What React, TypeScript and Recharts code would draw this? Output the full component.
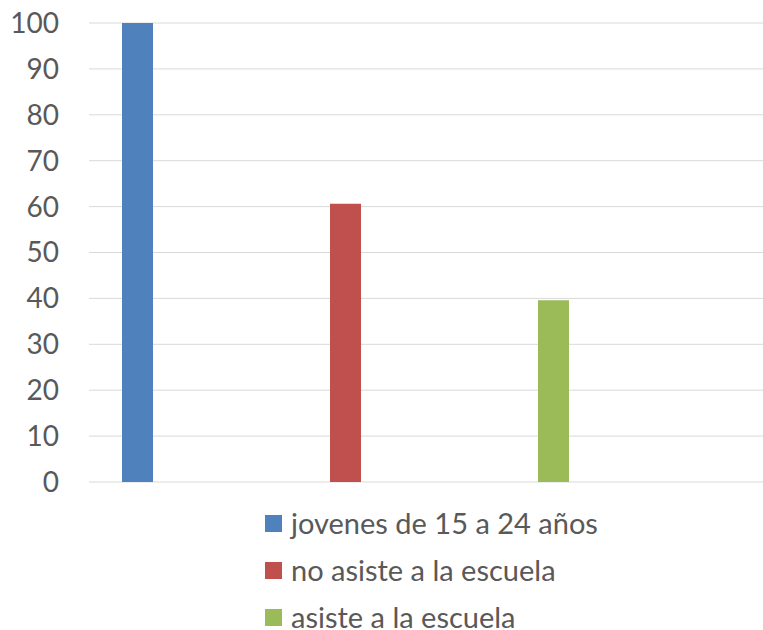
import React from 'react';
import { BarChart, Bar, XAxis, YAxis, CartesianGrid, Legend } from 'recharts';

const seriesNames = ['jovenes de 15 a 24 años', 'no asiste a la escuela', 'asiste a la escuela'];
const seriesValues = [100, 60.6, 39.6];
const seriesColors = ['#4f81bd', '#c0504d', '#9bbb59'];
const yTicks = [0, 10, 20, 30, 40, 50, 60, 70, 80, 90, 100];

const row: Record<string, number | string> = { name: 'total' };
seriesNames.forEach((n, i) => {
  row[`s${i}`] = seriesValues[i];
});
const data = [row];

const font = 'Lato, "Open Sans", sans-serif';

function LegendList({ payload }: any) {
  const items = [...(payload || [])].sort(
    (a: any, b: any) => seriesNames.indexOf(a.value) - seriesNames.indexOf(b.value)
  );
  return (
    <ul style={{ listStyle: 'none', margin: 0, padding: 0, fontFamily: font }}>
      {items.map((p: any, i: number) => (
        <li
          key={i}
          style={{ display: 'flex', alignItems: 'center', height: 26, lineHeight: '26px', marginBottom: 21, color: '#595959', fontSize: 29, whiteSpace: 'nowrap' }}
        >
          <span style={{ display: 'inline-block', width: 17, height: 17, background: p.color, marginRight: 9, flexShrink: 0 }} />
          {p.value}
        </li>
      ))}
    </ul>
  );
}

export default function App() {
  return (
    <div style={{ position: 'absolute', left: 0, top: 0, background: '#fff' }}>
      <BarChart width={763} height={630} data={data} margin={{ top: 23, right: 0, left: 0, bottom: 148 }} barSize={31} barGap={177}>
        <CartesianGrid vertical={false} stroke="#d9d9d9" />
        <XAxis dataKey="name" height={0} tick={false} tickLine={false} axisLine={{ stroke: '#d9d9d9', strokeWidth: 2 }} padding={{ left: 0, right: 162 }} />
        <YAxis
          width={89}
          domain={[0, 100]}
          ticks={yTicks}
          interval={0}
          axisLine={false}
          tickLine={false}
          tickSize={0}
          tickMargin={30}
          tick={{ fill: '#595959', fontSize: 28, fontFamily: font }}
        />
        <Legend
          layout="horizontal"
          verticalAlign="middle"
          align="center"
          itemSorter="dataKey"
          content={<LegendList />}
          wrapperStyle={{ top: 510, left: 265, width: 460, height: 120 }}
        />
        {seriesNames.map((n, i) => (
          <Bar key={n} dataKey={`s${i}`} name={n} fill={seriesColors[i]} isAnimationActive={false} />
        ))}
      </BarChart>
    </div>
  );
}
